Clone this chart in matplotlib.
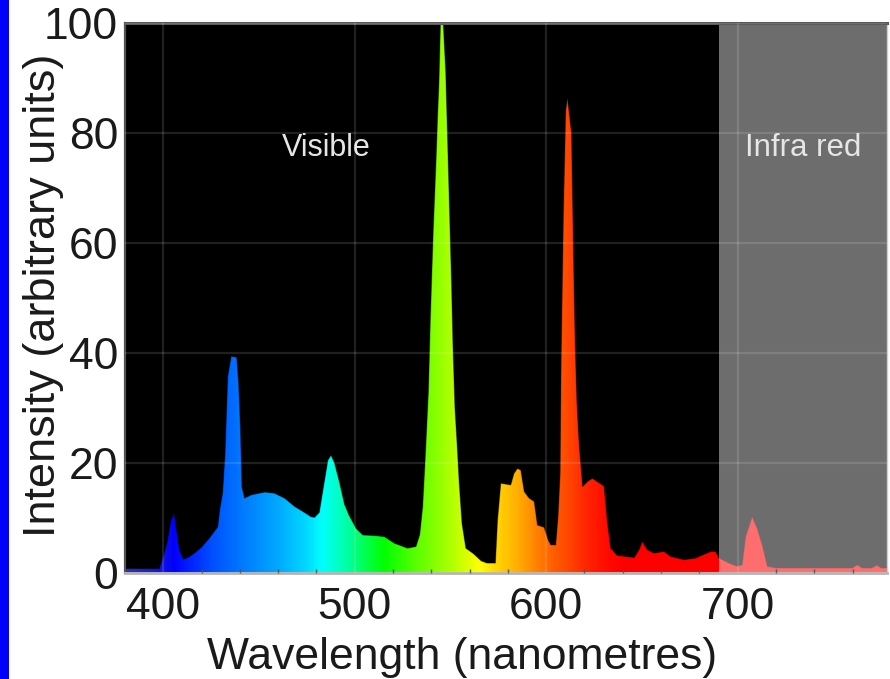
import numpy as np
import matplotlib
matplotlib.use("Agg")
import matplotlib.pyplot as plt
from matplotlib.colors import LinearSegmentedColormap, Normalize
from matplotlib.patches import Polygon, Rectangle

# ---- data ----
wavelength = [380, 398, 400, 402, 404, 405.6, 407, 408.5, 410.5, 413, 417, 420, 424, 428.5,
              429.5, 431, 432.3, 433.7, 435.5, 438.3, 439.3, 440.3, 441, 442.4, 446, 453, 458,
              463.3, 468.5, 473.7, 477.2, 479, 481.5, 484, 486, 487.6, 489.4, 492, 494.6, 497,
              500.7, 504.2, 510, 515.5, 520.7, 527.6, 532, 534, 535.5, 537, 538.5, 539.5, 541,
              542.5, 543.3, 544, 544.8, 546.2, 547.5, 549, 550.5, 551.3, 552.3, 553.5, 554.5,
              556, 558, 562, 566, 569, 573.5, 574.6, 576.3, 581.5, 583.2, 585, 586.7, 588.5,
              591.1, 593.7, 595.4, 598.9, 601, 602.4, 605, 606.2, 607.3, 607.8, 609, 610.2,
              611.1, 613.2, 614.3, 615.1, 616, 617.2, 619, 621.5, 624.1, 626.7, 630.2, 631.9,
              633.7, 637, 646, 648.5, 650.2, 652.8, 656.3, 661.5, 665, 672, 678, 686, 688.5,
              690.2, 695.4, 699.8, 702.4, 704.2, 707.6, 710.2, 712.8, 715.5, 720, 760, 762.5,
              765, 770, 772.8, 775, 778]
intensity = [0.8, 0.8, 3, 5.5, 9.5, 10.9, 7.5, 4, 2.5, 2.8, 3.8, 4.7, 6.3, 8.4,
             11.5, 14.5, 21.8, 35.7, 39.4, 39.2, 34.5, 26, 15.7, 13.6, 14.2, 14.7, 14.5,
             13.6, 12.1, 11, 10.2, 10.1, 11, 16.3, 20.5, 21.4, 20, 16.5, 12.5, 10.5,
             8.1, 6.9, 6.8, 6.6, 5.4, 4.5, 4.8, 7, 12, 22, 33, 46, 62,
             75, 83, 89, 100, 100, 91, 72, 53, 41, 30, 23, 16.5,
             9, 4.5, 3.5, 2.2, 1.8, 1.8, 9.6, 16.3, 16, 18.1, 19, 18.7, 14.8,
             13.6, 13, 8.7, 8.3, 6, 5.1, 5.1, 10.2, 18.1, 38, 65, 84,
             86.3, 80, 56.6, 41.8, 31.1, 23.3, 15.7, 16.6, 17.2, 16.6, 15.8, 9.3,
             4.5, 3.2, 2.8, 4.2, 5.7, 4.2, 3.6, 3.9, 3, 2.4, 2.7, 3.9, 3.9,
             2.7, 1.8, 1.2, 1.5, 6.6, 10.2, 8.1, 5.1, 1.2, 0.9, 0.9, 1.5,
             0.9, 0.9, 1.4, 0.9, 0.9]

x_ticks = [400, 500, 600, 700]
y_ticks = [0, 20, 40, 60, 80, 100]
x_label = "Wavelength (nanometres)"
y_label = "Intensity (arbitrary units)"
region_labels = ["Visible", "Infra red"]
ir_start = 690

# spectral colour anchors (wavelength -> colour)
color_wl = [380, 398, 405, 412, 425, 440, 460, 475, 482, 495, 505, 515, 530, 545, 555,
            565, 575, 585, 595, 605, 612, 620, 632, 640, 778]
color_rgb = ["#3232aa", "#1414dc", "#0000ff", "#001eff", "#0050ff", "#0078ff", "#00aaff",
             "#00dcff", "#00ffff", "#00ffaa", "#00ff50", "#00ff00", "#50ff00", "#96ff00",
             "#c8ff00", "#ffff00", "#ffd200", "#ffaf00", "#ff8200", "#ff5a00", "#ff4600",
             "#ff2800", "#ff0a00", "#ff0000", "#ff0000"]

plt.rcParams["font.family"] = ["Liberation Sans", "DejaVu Sans"]

xmin, xmax = 380, 778
fig = plt.figure(figsize=(8.9, 6.79), dpi=100)
fig.patch.set_facecolor("white")
fig.add_artist(Rectangle((0, 0), 9 / 890, 1, transform=fig.transFigure,
                         facecolor="#0000ff", edgecolor="none"))

ax = fig.add_axes([125 / 890, 1 - 573 / 679, 762 / 890, 550 / 679])
ax.set_facecolor("black")

pos = [(w - xmin) / (xmax - xmin) for w in color_wl]
cmap = LinearSegmentedColormap.from_list("spec", list(zip(pos, color_rgb)))
grad = np.linspace(xmin, xmax, 1200)[None, :]
im = ax.imshow(grad, cmap=cmap, norm=Normalize(xmin, xmax), extent=[xmin, xmax, 0, 100],
               aspect="auto", origin="lower", zorder=1, interpolation="bilinear")
verts = np.column_stack([np.r_[wavelength, wavelength[::-1]],
                         np.r_[intensity, np.zeros(len(intensity))]])
poly = Polygon(verts, closed=True, transform=ax.transData, facecolor="none",
               edgecolor="none")
ax.add_patch(poly)
im.set_clip_path(poly)
edge = Polygon(verts, closed=True, transform=ax.transData, facecolor="none",
               edgecolor=(0, 0, 0, 0.3), lw=0.8, zorder=1.5)
ax.add_patch(edge)

ax.axvspan(ir_start, xmax, color="white", alpha=0.43, lw=0, zorder=2)

ax.set_xlim(xmin, xmax)
ax.set_ylim(0, 100)
ax.set_xticks(x_ticks)
ax.set_yticks(y_ticks)
ax.set_xticks(np.arange(400, 780, 20), minor=True)
ax.set_axisbelow(False)
ax.grid(True, which="major", color="white", alpha=0.13, lw=1.6)
ax.tick_params(axis="both", which="major", length=0, labelsize=32, labelcolor="#1a1a1a")
ax.tick_params(axis="x", which="major", pad=10)
ax.tick_params(axis="y", which="major", pad=5)
ax.tick_params(axis="x", which="minor", direction="in", length=3, width=1, color="#555555")

for side, col, lw in [("top", "#5a5a5a", 2.2), ("left", "#555555", 1.6),
                      ("bottom", "#b4b4b4", 2.0), ("right", "#cfcfcf", 1.0)]:
    ax.spines[side].set_color(col)
    ax.spines[side].set_linewidth(lw)

ax.set_xlabel(x_label, fontsize=32, color="#1a1a1a")
ax.set_ylabel(y_label, fontsize=32.5, color="#1a1a1a")
ax.xaxis.set_label_coords(0.442, -0.117)
ax.yaxis.set_label_coords(-0.080, 0.505)

ax.text(485, 77.3, region_labels[0], color="#e6e6e6", fontsize=22, ha="center",
        va="center", zorder=4)
ax.text(734, 77.3, region_labels[1], color="#e6e6e6", fontsize=22.5, ha="center",
        va="center", zorder=4)

fig.savefig("out.png", dpi=100, facecolor="white")
